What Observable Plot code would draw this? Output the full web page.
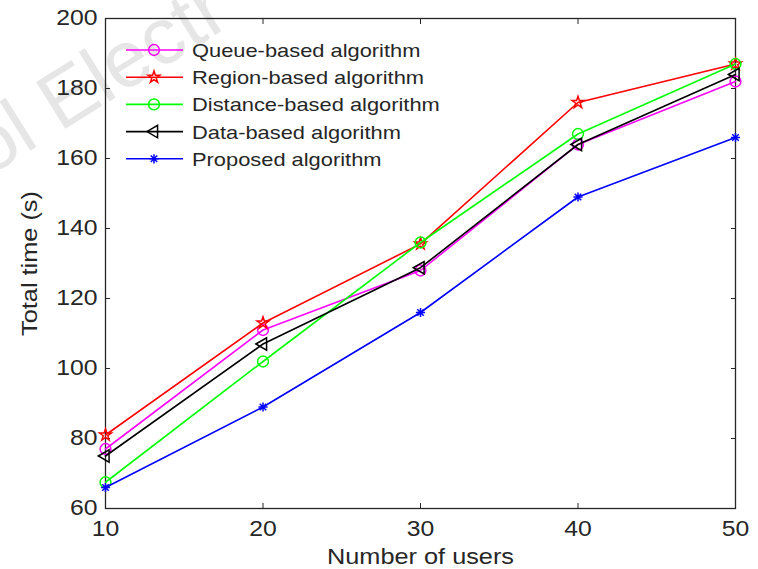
<!DOCTYPE html>
<html>
<head>
<meta charset="utf-8">
<script src="https://cdn.jsdelivr.net/npm/d3@7"></script>
<script src="https://cdn.jsdelivr.net/npm/@observablehq/plot@0.6"></script>
<style>
  html, body { margin: 0; padding: 0; background: #fff; }
</style>
</head>
<body>
<div id="chart"></div>
<script>
const users = [10, 20, 30, 40, 50];
const queueBased = [77, 111, 128, 164, 182];
const regionBased = [81, 113, 135.6, 176, 187];
const distanceBased = [67.5, 102, 136, 167, 187];
const dataBased = [75, 107, 128.8, 164, 184];
const proposed = [66, 89, 116, 149, 166];

const seriesNames = ["Queue-based algorithm", "Region-based algorithm", "Distance-based algorithm", "Data-based algorithm", "Proposed algorithm"];
const seriesValues = [queueBased, regionBased, distanceBased, dataBased, proposed];
const seriesColors = ["#ff00ff", "#ff0000", "#00ff00", "#000000", "#0000ff"];
const seriesSymbols = ["circle", "star", "circle", "triangle", "asterisk8"];
const seriesRadius = [5.4, 3.7, 5.4, 4.6, 4.6];
const seriesRotate = [0, 0, 0, -90, 0];

const yTicks = [60, 80, 100, 120, 140, 160, 180, 200];
const xTicks = [10, 20, 30, 40, 50];

// 8-armed asterisk (MATLAB style "*")
const asterisk8 = {
  draw(context, size) {
    const r = Math.sqrt(size / Math.PI) * 1.0;
    for (let k = 0; k < 4; k++) {
      const a = k * Math.PI / 4;
      const dx = r * Math.cos(a), dy = r * Math.sin(a);
      context.moveTo(-dx, -dy);
      context.lineTo(dx, dy);
    }
  }
};
const symbolMap = {circle: d3.symbolCircle, star: d3.symbolStar, triangle: d3.symbolTriangle, asterisk8};

const rows = [];
seriesNames.forEach((name, i) => {
  users.forEach((u, j) => rows.push({series: name, idx: i, users: u, time: seriesValues[i][j]}));
});

const W = 758, H = 569;
const mL = 105, mR = 23, mT = 18, mB = 61;
const axisColor = "#262626";

const marks = [
  Plot.axisX({anchor: "bottom", ticks: xTicks, tickSize: -5, tickPadding: 17, stroke: axisColor, fill: axisColor, label: "Number of users", labelAnchor: "center", labelOffset: 55, labelArrow: "none"}),
  Plot.axisX({anchor: "top", ticks: xTicks, tickSize: -5, tickFormat: () => "", stroke: axisColor, label: null}),
  Plot.axisY({anchor: "left", ticks: yTicks, tickSize: -5, tickPadding: 13, stroke: axisColor, fill: axisColor, label: "Total time (s)", labelAnchor: "center", labelOffset: 84, labelArrow: "none"}),
  Plot.axisY({anchor: "right", ticks: yTicks, tickSize: -5, tickFormat: () => "", stroke: axisColor, label: null}),
  Plot.frame({stroke: axisColor, strokeWidth: 1.3})
];

seriesNames.forEach((name, i) => {
  const d = rows.filter(r => r.idx === i);
  marks.push(Plot.line(d, {x: "users", y: "time", stroke: seriesColors[i], strokeWidth: 1.6}));
  marks.push(Plot.dot(d, {x: "users", y: "time", symbol: () => symbolMap[seriesSymbols[i]], r: seriesRadius[i], rotate: seriesRotate[i],
    stroke: seriesColors[i], fill: "none", strokeWidth: 1.5}));
});

const plot = Plot.plot({
  width: W, height: H,
  marginLeft: mL, marginRight: mR, marginTop: mT, marginBottom: mB,
  style: {fontFamily: "'Liberation Sans', Arial, sans-serif", fontSize: "21.5px", color: axisColor, background: "#fff", overflow: "visible"},
  x: {domain: [10, 50]},
  y: {domain: [60, 200]},
  symbol: {type: "identity"},
  marks
});

document.getElementById("chart").appendChild(plot);
const svg = d3.select(plot);

// axis label sizes
svg.selectAll("g[aria-label='x-axis label'] text, g[aria-label='y-axis label'] text").style("font-size", "22px");

// watermark (behind)
svg.insert("text", ":first-child")
  .attr("class", "wm")
  .attr("transform", "translate(-12,177) rotate(-32)")
  .attr("text-anchor", "start")
  .attr("fill", "#e6e6e6")
  .style("font-size", "80px")
  .text("ol Electr");

// legend
const lg = svg.append("g").attr("class", "legend");
const rowY0 = mT + 32, rowDy = 27.2;
seriesNames.forEach((name, i) => {
  const y = rowY0 + i * rowDy;
  lg.append("line").attr("x1", mL + 21).attr("x2", mL + 78).attr("y1", y).attr("y2", y)
    .attr("stroke", seriesColors[i]).attr("stroke-width", 1.6);
  const r = seriesRadius[i];
  lg.append("path").attr("d", d3.symbol(symbolMap[seriesSymbols[i]], Math.PI * r * r)())
    .attr("transform", `translate(${mL + 49},${y}) rotate(${seriesRotate[i]})`)
    .attr("fill", "none").attr("stroke", seriesColors[i]).attr("stroke-width", 1.5);
  lg.append("text").attr("x", mL + 87).attr("y", y + 7).attr("fill", axisColor)
    .attr("text-anchor", "start")
    .style("font-size", "19px").text(name);
});

// widen glyphs to match reference typeface proportions
plot.querySelectorAll("text:not(.wm)").forEach(t => {
  const len = t.getComputedTextLength();
  if (len > 0) {
    t.setAttribute("textLength", (len * 1.15).toFixed(1));
    t.setAttribute("lengthAdjust", "spacingAndGlyphs");
  }
});
</script>
</body>
</html>
